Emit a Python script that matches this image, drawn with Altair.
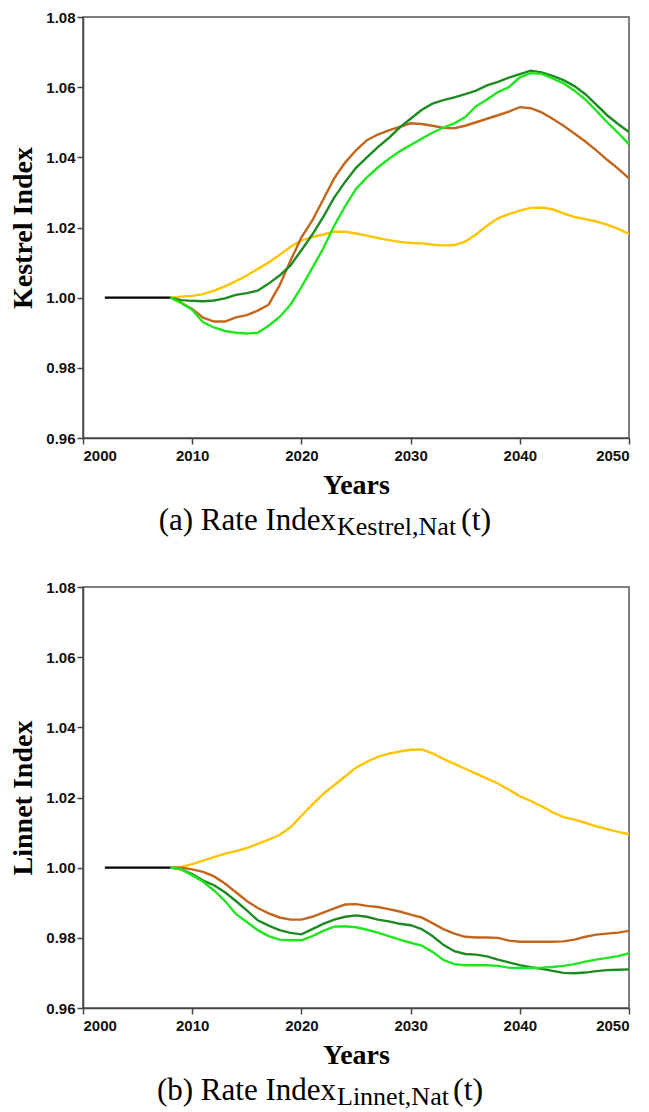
import altair as alt
import pandas as pd

# ---------------- data ----------------
years = list(range(2008, 2051))
base_years = [2002, 2008]
base_vals = [1.0, 1.0]

# Panel (a) Kestrel
kes_yellow = [1.0000, 1.0003, 1.0005, 1.0010, 1.0020, 1.0032, 1.0047, 1.0063, 1.0082, 1.0100,
              1.0122, 1.0145, 1.0163, 1.0173, 1.0180, 1.0188, 1.0188, 1.0183, 1.0177, 1.0170,
              1.0164, 1.0159, 1.0156, 1.0155, 1.0151, 1.0149, 1.0150, 1.0160, 1.0180, 1.0205,
              1.0226, 1.0238, 1.0248, 1.0256, 1.0257, 1.0252, 1.0240, 1.0230, 1.0224, 1.0217,
              1.0208, 1.0196, 1.0182]
kes_orange = [1.0000, 0.9985, 0.9968, 0.9943, 0.9932, 0.9932, 0.9944, 0.9950, 0.9963, 0.9980,
              1.0035, 1.0105, 1.0172, 1.0220, 1.0280, 1.0340, 1.0385, 1.0420, 1.0449, 1.0465,
              1.0477, 1.0487, 1.0497, 1.0495, 1.0490, 1.0484, 1.0483, 1.0490, 1.0500, 1.0510,
              1.0520, 1.0530, 1.0543, 1.0540, 1.0528, 1.0510, 1.0490, 1.0468, 1.0445, 1.0420,
              1.0393, 1.0368, 1.0340]
kes_dgreen = [1.0000, 0.9993, 0.9991, 0.9990, 0.9992, 0.9998, 1.0008, 1.0013, 1.0020, 1.0040,
              1.0063, 1.0092, 1.0135, 1.0180, 1.0230, 1.0285, 1.0330, 1.0370, 1.0400, 1.0429,
              1.0455, 1.0485, 1.0510, 1.0535, 1.0553, 1.0563, 1.0571, 1.0580, 1.0590, 1.0605,
              1.0615, 1.0627, 1.0637, 1.0647, 1.0642, 1.0632, 1.0620, 1.0603, 1.0580, 1.0550,
              1.0520, 1.0495, 1.0472]
kes_lgreen = [1.0000, 0.9985, 0.9965, 0.9930, 0.9915, 0.9905, 0.9900, 0.9898, 0.9900, 0.9920,
              0.9945, 0.9980, 1.0030, 1.0085, 1.0140, 1.0205, 1.0260, 1.0310, 1.0343, 1.0371,
              1.0395, 1.0417, 1.0435, 1.0453, 1.0470, 1.0485, 1.0497, 1.0515, 1.0546, 1.0565,
              1.0586, 1.0600, 1.0628, 1.0640, 1.0638, 1.0625, 1.0611, 1.0590, 1.0565, 1.0533,
              1.0500, 1.0470, 1.0437]

# Panel (b) Linnet
lin_yellow = [1.0000, 1.0002, 1.0010, 1.0020, 1.0030, 1.0040, 1.0047, 1.0056, 1.0068, 1.0080,
              1.0093, 1.0115, 1.0148, 1.0180, 1.0210, 1.0235, 1.0260, 1.0285, 1.0302, 1.0316,
              1.0325, 1.0331, 1.0336, 1.0337, 1.0326, 1.0310, 1.0296, 1.0282, 1.0268, 1.0254,
              1.0240, 1.0222, 1.0204, 1.0190, 1.0175, 1.0158, 1.0144, 1.0137, 1.0128, 1.0118,
              1.0110, 1.0102, 1.0095]
lin_orange = [1.0000, 1.0000, 0.9995, 0.9988, 0.9975, 0.9955, 0.9930, 0.9905, 0.9885, 0.9870,
              0.9858, 0.9852, 0.9852, 0.9860, 0.9872, 0.9884, 0.9895, 0.9896, 0.9891, 0.9888,
              0.9882, 0.9875, 0.9866, 0.9858, 0.9842, 0.9825, 0.9812, 0.9803, 0.9801, 0.9801,
              0.9800, 0.9792, 0.9789, 0.9789, 0.9789, 0.9789, 0.9790, 0.9795, 0.9803, 0.9809,
              0.9812, 0.9815, 0.9820]
lin_dgreen = [1.0000, 0.9995, 0.9982, 0.9963, 0.9950, 0.9930, 0.9905, 0.9878, 0.9850, 0.9835,
              0.9822, 0.9814, 0.9810, 0.9825, 0.9840, 0.9852, 0.9860, 0.9864, 0.9860, 0.9852,
              0.9847, 0.9840, 0.9836, 0.9825, 0.9805, 0.9780, 0.9762, 0.9754, 0.9752, 0.9747,
              0.9738, 0.9730, 0.9722, 0.9716, 0.9712, 0.9706, 0.9700, 0.9699, 0.9701, 0.9705,
              0.9708, 0.9709, 0.9710]
lin_lgreen = [1.0000, 0.9995, 0.9978, 0.9960, 0.9935, 0.9905, 0.9868, 0.9845, 0.9822, 0.9805,
              0.9795, 0.9793, 0.9793, 0.9805, 0.9820, 0.9832, 0.9833, 0.9830, 0.9823, 0.9815,
              0.9805, 0.9795, 0.9786, 0.9778, 0.9760, 0.9737, 0.9725, 0.9722, 0.9722, 0.9722,
              0.9720, 0.9715, 0.9714, 0.9714, 0.9715, 0.9717, 0.9720, 0.9725, 0.9732, 0.9738,
              0.9743, 0.9748, 0.9756]

series_names = ["Base", "S1", "S2", "S3", "S4"]
series_colors = ["#000000", "#FFC400", "#C2661E", "#1E8A22", "#1FE61F"]

x_ticks = [2000, 2010, 2020, 2030, 2040, 2050]
y_ticks = [0.96, 0.98, 1.00, 1.02, 1.04, 1.06, 1.08]

W, H = 546, 421


def build_df(yel, ora, dgr, lgr):
    rows = []
    for y, v in zip(base_years, base_vals):
        rows.append({"year": y, "value": v, "series": "Base"})
    for name, vals in zip(["S1", "S2", "S3", "S4"], [yel, ora, dgr, lgr]):
        for y, v in zip(years, vals):
            rows.append({"year": y, "value": v, "series": name})
    return pd.DataFrame(rows)


def panel(df, ytitle, letter, sub):
    lines = alt.Chart(df).mark_line(strokeWidth=2.4, clip=True).encode(
        x=alt.X("year:Q",
                scale=alt.Scale(domain=[2000, 2050], nice=False, zero=False),
                axis=alt.Axis(values=x_ticks, format="d", title="Years")),
        y=alt.Y("value:Q",
                scale=alt.Scale(domain=[0.96, 1.08], nice=False, zero=False),
                axis=alt.Axis(values=y_ticks, format=".2f", title=ytitle)),
        color=alt.Color("series:N",
                        scale=alt.Scale(domain=series_names, range=series_colors),
                        legend=None),
    )
    cap = pd.DataFrame({"main": [f"({letter}) Rate Index"], "sub": [sub], "tail": ["(t)"]})
    base = alt.Chart(cap)
    x_sub = 254
    sub_w = 123 if letter == "a" else 115
    main = base.mark_text(align="right", baseline="alphabetic", font="Liberation Serif",
                          fontSize=31, color="black").encode(
        x=alt.value(x_sub - 1), y=alt.value(H + 92), text="main:N")
    subt = base.mark_text(align="left", baseline="alphabetic", font="Liberation Serif",
                          fontSize=26, color="black").encode(
        x=alt.value(x_sub), y=alt.value(H + 97), text="sub:N")
    tail = base.mark_text(align="left", baseline="alphabetic", font="Liberation Serif",
                          fontSize=32, color="black").encode(
        x=alt.value(x_sub + sub_w + 1), y=alt.value(H + 92), text="tail:N")
    return alt.layer(lines, main, subt, tail).properties(width=W, height=H)


df_a = build_df(kes_yellow, kes_orange, kes_dgreen, kes_lgreen)
df_b = build_df(lin_yellow, lin_orange, lin_dgreen, lin_lgreen)

chart = alt.vconcat(
    panel(df_a, "Kestrel Index", "a", "Kestrel,Nat"),
    panel(df_b, "Linnet Index", "b", "Linnet,Nat"),
    spacing=38,
).properties(
    padding={"left": 9, "top": 9, "right": 2, "bottom": 2},
    background="white",
).configure_view(
    stroke="#555555", strokeWidth=1.5
).configure_axis(
    domainColor="#444444", domainWidth=1.5,
    tickColor="#444444", tickWidth=1.5, tickSize=6,
    grid=False,
    labelFont="Liberation Sans Narrow, Arial Narrow, Liberation Sans", labelFontWeight="bold",
    labelFontSize=15, labelColor="#111111",
    titleFont="Liberation Serif", titleFontWeight="bold", titleFontSize=28,
    titleColor="#000000",
).configure_axisX(
    labelPadding=4, titlePadding=8,
).configure_axisY(
    labelPadding=2, titlePadding=8,
)

chart.save("out.html", embed_options={"renderer": "svg", "actions": False})
